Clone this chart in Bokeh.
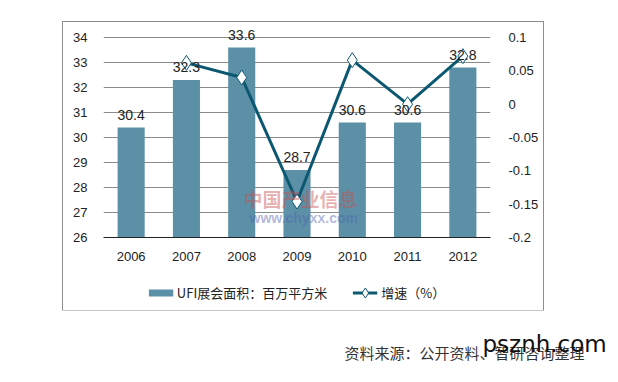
from bokeh.plotting import figure
from bokeh.layouts import column
from bokeh.models import (FactorRange, Range1d, LinearAxis, ColumnDataSource, LabelSet,
                          Legend, LegendItem, Label, FixedTicker)
from bokeh.core.properties import value
from bokeh.embed import file_html
from bokeh.resources import INLINE

years = ["2006", "2007", "2008", "2009", "2010", "2011", "2012"]
area = [30.4, 32.3, 33.6, 28.7, 30.6, 30.6, 32.8]
area_labels = ["30.4", "32.3", "33.6", "28.7", "30.6", "30.6", "32.8"]
growth_years = ["2007", "2008", "2009", "2010", "2011", "2012"]
growth = [0.062, 0.040, -0.146, 0.066, 0.0, 0.072]
left_ticks = [26, 27, 28, 29, 30, 31, 32, 33, 34]
right_ticks = [-0.2, -0.15, -0.1, -0.05, 0, 0.05, 0.1]
right_tick_labels = ["-0.2", "-0.15", "-0.1", "-0.05", "0", "0.05", "0.1"]

BAR = "#5b90a7"
LINE = "#0c5870"
TXT = "#222222"
LATIN = "Liberation Sans"
CJK = "Noto Sans CJK SC"

# ---------------- main chart ----------------
# axes top kept 15px above the last tick so the value labels are not clipped
p = figure(width=480, height=255, x_range=FactorRange(*years, range_padding=0),
           y_range=Range1d(26, 34.6), output_backend="svg", toolbar_location=None,
           min_border_left=40, min_border_right=53, min_border_top=0,
           min_border_bottom=40)
p.extra_y_ranges = {"g": Range1d(-0.2, 0.1225)}
p.outline_line_color = None
p.background_fill_color = "white"
p.border_fill_color = "white"

bsrc = ColumnDataSource(dict(x=years, top=area, lab=area_labels))
bars = p.vbar(x="x", top="top", bottom=26, width=0.49, source=bsrc,
              fill_color=BAR, line_color=None)

gsrc = ColumnDataSource(dict(x=growth_years, y=growth))
ln = p.line(x="x", y="y", source=gsrc, y_range_name="g", line_color=LINE, line_width=3)
mk = p.scatter(x="x", y="y", source=gsrc, y_range_name="g", marker="diamond", size=15,
               fill_color="white", line_color=LINE, line_width=1)

labels = LabelSet(x="x", y="top", text="lab", source=bsrc, text_align="center",
                  text_baseline="bottom", y_offset=8, text_font=value(LATIN),
                  text_font_size="14px", text_color=TXT)
p.add_layout(labels)

p.yaxis.ticker = FixedTicker(ticks=left_ticks)
p.yaxis.axis_line_color = None
p.yaxis.major_tick_line_color = None
p.yaxis.minor_tick_line_color = None
p.yaxis.major_label_standoff = 10
p.yaxis.major_label_text_font = LATIN
p.yaxis.major_label_text_font_size = "13px"
p.yaxis.major_label_text_color = TXT

p.xaxis.axis_line_color = "#222222"
p.xaxis.axis_line_width = 1
p.xaxis.major_tick_line_color = None
p.xaxis.minor_tick_line_color = None
p.xaxis.major_label_standoff = 8
p.xaxis.major_label_text_font = LATIN
p.xaxis.major_label_text_font_size = "13px"
p.xaxis.major_label_text_color = TXT

ra = LinearAxis(y_range_name="g", ticker=FixedTicker(ticks=right_ticks))
ra.major_label_overrides = {t: s for t, s in zip(right_ticks, right_tick_labels)}
ra.axis_line_color = None
ra.major_tick_line_color = None
ra.minor_tick_line_color = None
ra.major_label_standoff = 12
ra.major_label_text_font = LATIN
ra.major_label_text_font_size = "13px"
ra.major_label_text_color = TXT
p.add_layout(ra, "right")

p.xgrid.grid_line_color = None
p.ygrid.grid_line_color = "#8a8a8a"
p.ygrid.grid_line_width = 1

wm1 = Label(x=180, y=176, x_units="canvas", y_units="canvas", text="中国产业信息",
            text_font=CJK, text_font_size="19px", text_font_style="bold",
            text_color="#c85050", text_alpha=0.45, text_baseline="middle")
wm2 = Label(x=186, y=195, x_units="canvas", y_units="canvas", text="www.chyxx.com",
            text_font=LATIN, text_font_size="14px", text_font_style="bold",
            text_color="#5060b0", text_alpha=0.45, text_baseline="middle")
p.add_layout(wm1)
p.add_layout(wm2)

# ---------------- legend strip (same data, kept out of view) ----------------
pl = figure(width=480, height=33, output_backend="svg", toolbar_location=None,
            x_range=FactorRange(*years), y_range=Range1d(1000, 1001), min_border=0,
            x_axis_location=None, y_axis_location=None)
pl.extra_y_ranges = {"g": Range1d(1000, 1001)}
pl.grid.visible = False
pl.outline_line_color = None
lb = pl.line(x="x", y="top", source=bsrc, line_color=BAR, line_width=7)
ll = pl.line(x="x", y="y", source=gsrc, y_range_name="g", line_color=LINE, line_width=3)
lm = pl.scatter(x="x", y="y", source=gsrc, y_range_name="g", marker="diamond", size=11,
                fill_color="white", line_color=LINE, line_width=1)
legend = Legend(items=[LegendItem(label="UFI展会面积：百万平方米", renderers=[lb]),
                       LegendItem(label="增速（%）", renderers=[ll, lm])],
                location="top_center", orientation="horizontal",
                border_line_color=None, background_fill_alpha=0,
                padding=0, margin=3, spacing=25, glyph_width=25, glyph_height=25,
                label_standoff=4, label_text_font=CJK, label_text_font_size="13px",
                label_text_color=TXT, label_height=20)
pl.add_layout(legend, "center")

box = column(p, pl, spacing=0, margin=(22, 0, 0, 63),
             styles={"outline": "1px solid #8c8c8c"})

# ---------------- footer: source note ----------------
p2 = figure(width=618, height=72, output_backend="svg", toolbar_location=None,
            x_range=Range1d(0, 1), y_range=Range1d(0, 1), min_border=0,
            x_axis_location=None, y_axis_location=None)
p2.grid.visible = False
p2.outline_line_color = None
src_txt = Label(x=344, y=42, x_units="canvas", y_units="canvas",
                text="资料来源：公开资料、智研咨询整理", text_font=CJK,
                text_font_size="15px", text_color="#333333", text_baseline="middle")
site = Label(x=482, y=33, x_units="canvas", y_units="canvas", text="psznh.com",
             text_font="DejaVu Sans", text_font_size="23px", text_color="#111111",
             text_baseline="middle")
p2.add_layout(src_txt)
p2.add_layout(site)

layout = column(box, p2, spacing=0)
open("out.html", "w").write(file_html(layout, INLINE))
